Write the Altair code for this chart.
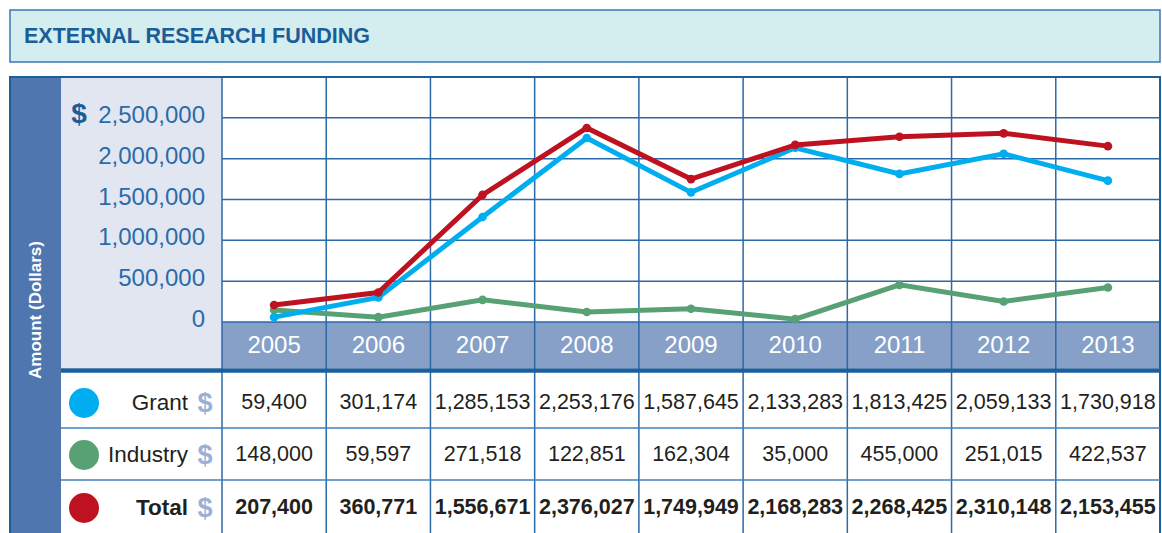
import altair as alt
import pandas as pd

# ---------------- data ----------------
years = [2005, 2006, 2007, 2008, 2009, 2010, 2011, 2012, 2013]
grant = [59400, 301174, 1285153, 2253176, 1587645, 2133283, 1813425, 2059133, 1730918]
industry = [148000, 59597, 271518, 122851, 162304, 35000, 455000, 251015, 422537]
total = [207400, 360771, 1556671, 2376027, 1749949, 2168283, 2268425, 2310148, 2153455]
series_names = ["Grant", "Industry", "Total"]
series_colors = ["#00AEEF", "#58A174", "#BE1220"]
y_ticks = [0, 500000, 1000000, 1500000, 2000000, 2500000]
y_grid = [0, 500000, 1000000, 1500000, 2000000, 2500000, 3000000]
title_text = "EXTERNAL RESEARCH FUNDING"
y_title = "Amount (Dollars)"

W, H = 1162, 533
FONT = "Liberation Sans, Arial, sans-serif"
DARK = "#1D5F9B"
GRID = "#2B69A8"

xs = alt.Scale(domain=[years[0] - 0.5, years[-1] + 0.5], range=[222, 1160], nice=False, zero=False)
ys = alt.Scale(domain=[0, 3000000], range=[322, 77], nice=False, zero=False)

dummy = pd.DataFrame({"a": [0]})


def box(x, x2, y, y2, fill, stroke=None, sw=0):
    kw = dict(fill=fill)
    if stroke:
        kw.update(stroke=stroke, strokeWidth=sw)
    return alt.Chart(dummy).mark_rect(**kw).encode(
        x=alt.value(x), x2=alt.value(x2), y=alt.value(y), y2=alt.value(y2))


def hrule(y, x, x2, color, sw):
    return alt.Chart(dummy).mark_rule(color=color, strokeWidth=sw).encode(
        x=alt.value(x), x2=alt.value(x2), y=alt.value(y))


def label(txt, x, y, size, color, align="left", weight="normal", font=FONT, angle=None):
    kw = dict(text=txt, fontSize=size, color=color, align=align, baseline="middle",
              fontWeight=weight, font=font)
    if angle is not None:
        kw["angle"] = angle
    return alt.Chart(dummy).mark_text(**kw).encode(x=alt.value(x), y=alt.value(y))


layers = []
# title banner
layers.append(box(10, 1160, 10, 62, "#D4EDEF", "#3A78B5", 1.5))
layers.append(label(title_text, 24, 37, 21.5, "#1A5E98", weight="bold"))

# main panel backgrounds
layers.append(box(10, 61, 77, 545, "#4F76AE"))
layers.append(box(61, 222, 77, 368, "#E2E6F1"))
layers.append(box(222, 1160, 322, 368, "#87A0C8"))

# horizontal grid through y scale
grid_df = pd.DataFrame({"v": y_grid})
layers.append(alt.Chart(grid_df).mark_rule(color=GRID, strokeWidth=1.5).encode(
    y=alt.Y("v:Q", scale=ys, axis=None), x=alt.value(222), x2=alt.value(1160)))

# vertical column lines through x scale
bounds = pd.DataFrame({"b": [y - 0.5 for y in years] + [years[-1] + 0.5]})
layers.append(alt.Chart(bounds).mark_rule(color=GRID, strokeWidth=1.5).encode(
    x=alt.X("b:Q", scale=xs, axis=None), y=alt.value(77), y2=alt.value(540)))

# outer border
layers.append(box(10, 1160, 77, 545, "transparent", DARK, 2))

# table lines
layers.append(hrule(370.5, 61, 1160, DARK, 4.5))
layers.append(hrule(428, 61, 1160, "#3F7FBD", 1.5))
layers.append(hrule(480, 61, 1160, "#3F7FBD", 1.5))

# series lines + points
series_vals = {"Grant": grant, "Industry": industry, "Total": total}
for name in ["Industry", "Grant", "Total"]:
    col = series_colors[series_names.index(name)]
    df = pd.DataFrame({"year": years, "value": series_vals[name]})
    base = alt.Chart(df).encode(
        x=alt.X("year:Q", scale=xs, axis=None),
        y=alt.Y("value:Q", scale=ys, axis=None))
    layers.append(base.mark_line(color=col, strokeWidth=5))
    layers.append(base.mark_circle(color=col, size=75, opacity=1))

# y tick labels
tick_df = pd.DataFrame({"v": y_ticks})
layers.append(alt.Chart(tick_df).mark_text(
    align="right", baseline="middle", fontSize=24, color="#2A6BAA", font=FONT, dy=-2
).encode(y=alt.Y("v:Q", scale=ys, axis=None), x=alt.value(205), text=alt.Text("v:Q", format=",")))
layers.append(label("$", 79, 115, 28, "#1A5E98", align="center", weight="bold"))

# y title on band
layers.append(label(y_title, 36, 310, 17, "white", align="center", weight="bold", angle=270))

# year labels
yr_df = pd.DataFrame({"year": years})
layers.append(alt.Chart(yr_df).mark_text(
    align="center", baseline="middle", fontSize=24, color="white", font=FONT
).encode(x=alt.X("year:Q", scale=xs, axis=None), y=alt.value(346), text=alt.Text("year:N")))

# table rows
row_y = {"Grant": 403, "Industry": 455, "Total": 508}
for name in series_names:
    col = series_colors[series_names.index(name)]
    weight = "bold" if name == "Total" else "normal"
    df = pd.DataFrame({"year": years, "value": series_vals[name]})
    layers.append(alt.Chart(df).mark_text(
        align="center", baseline="middle", fontSize=21.5, color="#231F20", font=FONT, fontWeight=weight
    ).encode(x=alt.X("year:Q", scale=xs, axis=None), y=alt.value(row_y[name]),
             text=alt.Text("value:Q", format=",")))
    layers.append(label(name, 188, row_y[name], 22.5, "#231F20", align="right", weight=weight))
    layers.append(label("$", 205, row_y[name] + 1, 27, "#9BB0D8", align="center", weight="bold"))
    layers.append(alt.Chart(dummy).mark_circle(color=col, size=900, opacity=1).encode(
        x=alt.value(84), y=alt.value(row_y[name])))

chart = alt.layer(*layers).properties(
    width=W, height=H, autosize=alt.AutoSizeParams(type="none"), padding=0, background="white"
).configure_view(stroke=None)

chart.save("out.html", embed_options={"renderer": "svg", "actions": False})
